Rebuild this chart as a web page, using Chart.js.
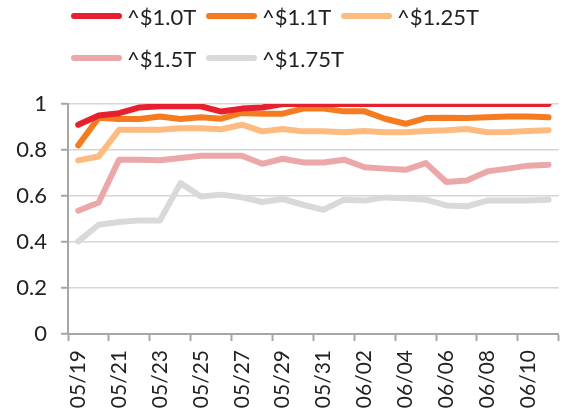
<!DOCTYPE html>
<html>
<head>
<meta charset="utf-8">
<script src="https://cdn.jsdelivr.net/npm/chart.js@4/dist/chart.umd.min.js"></script>
<style>
  html, body { margin: 0; padding: 0; background: #fff; }
  #wrap { position: relative; width: 583px; height: 416px; }
  #legend { position: absolute; left: 71px; top: -5px; width: 500px; display: flex; flex-wrap: wrap;
            font-family: Lato, sans-serif; font-size: 22px; color: #222; }
  .item { width: 135px; height: 42px; display: flex; align-items: center; white-space: nowrap; }
  .sw { width: 51px; height: 6px; border-radius: 3px; margin-right: 5px; flex: none; }
</style>
</head>
<body>
<div id="wrap">
  <div id="legend"></div>
  <canvas id="myChart" width="583" height="416"></canvas>
</div>
<script>
const dates = ["05/19","05/20","05/21","05/22","05/23","05/24","05/25","05/26","05/27","05/28","05/29","05/30","05/31",
               "06/01","06/02","06/03","06/04","06/05","06/06","06/07","06/08","06/09","06/10","06/11"];
const names = ["^$1.0T", "^$1.1T", "^$1.25T", "^$1.5T", "^$1.75T"];
const colors = ["#e8202e", "#f47b20", "#fdbb7f", "#eca7a9", "#d9d9d9"];

const t100 = [0.91,0.95,0.96,0.985,0.99,0.99,0.99,0.967,0.98,0.985,1,1,1,1,1,1,1,1,1,1,1,1,1,1];
const t110 = [0.82,0.94,0.935,0.935,0.946,0.935,0.942,0.936,0.961,0.958,0.958,0.98,0.98,0.968,0.968,0.936,0.914,0.939,0.94,0.939,0.942,0.946,0.946,0.942];
const t125 = [0.755,0.772,0.888,0.888,0.888,0.895,0.895,0.89,0.91,0.881,0.891,0.881,0.881,0.877,0.883,0.877,0.877,0.883,0.886,0.891,0.877,0.878,0.883,0.886];
const t150 = [0.536,0.572,0.758,0.758,0.755,0.765,0.775,0.775,0.775,0.74,0.762,0.746,0.746,0.758,0.725,0.719,0.714,0.743,0.661,0.667,0.707,0.719,0.732,0.736];
const t175 = [0.403,0.475,0.487,0.494,0.494,0.656,0.598,0.606,0.594,0.574,0.587,0.562,0.54,0.584,0.58,0.594,0.59,0.584,0.559,0.555,0.58,0.58,0.58,0.584];
const series = [t100, t110, t125, t150, t175];

// legend as html, fixed columns
const leg = document.getElementById("legend");
names.forEach((n, i) => {
  const d = document.createElement("div");
  d.className = "item";
  d.innerHTML = '<span class="sw" style="background:' + colors[i] + '"></span><span></span>';
  d.lastChild.textContent = n;
  leg.appendChild(d);
});

const axisGray = "#a6a6a6";

new Chart("myChart", {
  type: "line",
  data: {
    labels: dates,
    datasets: series.map((s, i) => ({
      label: names[i],
      data: s,
      borderColor: colors[i],
      backgroundColor: colors[i],
      borderWidth: 6,
      pointRadius: 0,
      tension: 0,
      fill: false,
      borderCapStyle: "round",
      borderJoinStyle: "round"
    }))
  },
  options: {
    responsive: false,
    animation: false,
    layout: { padding: { top: 104, right: 11, left: 0, bottom: 0 } },
    plugins: { legend: { display: false }, tooltip: { enabled: false } },
    scales: {
      x: {
        offset: true,
        afterFit: s => { s.height = 82; },
        grid: {
          offset: true,
          drawOnChartArea: false,
          tickLength: 7,
          tickWidth: 2,
          tickColor: c => (c.index % 2 ? "transparent" : axisGray)
        },
        border: { color: axisGray, width: 2 },
        ticks: {
          autoSkip: false,
          minRotation: 90,
          maxRotation: 90,
          padding: 9,
          color: "#222",
          font: { family: "Lato", size: 21 },
          callback: function (v, i) { return i % 2 ? "" : this.getLabelForValue(v); }
        }
      },
      y: {
        min: 0,
        max: 1,
        afterFit: s => { s.width = 68; },
        grid: {
          color: "#d6d6d6",
          lineWidth: 1.5,
          borderDash: [7, 5],
          tickLength: 7,
          tickWidth: 2,
          tickColor: axisGray,
          tickBorderDash: []
        },
        border: { color: axisGray, width: 2 },
        ticks: {
          stepSize: 0.2,
          padding: 14,
          color: "#222",
          font: { family: "Lato", size: 22 },
          callback: v => String(Math.round(v * 10) / 10)
        }
      }
    }
  }
});
</script>
</body>
</html>
